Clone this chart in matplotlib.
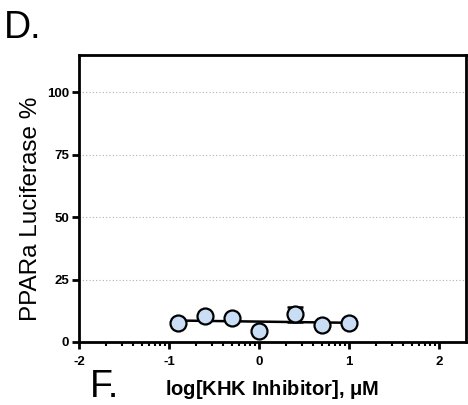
import matplotlib.pyplot as plt
import numpy as np
from matplotlib.ticker import FixedLocator

plt.rcParams['font.family'] = ['Liberation Sans', 'DejaVu Sans']
plt.rcParams['axes.unicode_minus'] = False

# data
log_conc = [-0.9, -0.6, -0.3, 0.0, 0.4, 0.7, 1.0]
response = [7.6, 10.6, 9.6, 4.5, 11.1, 7.0, 7.6]
resp_err = [0.0, 0.0, 0.0, 0.0, 3.1, 0.0, 0.0]
fit_x = [-0.9, 1.0]
fit_y = [8.6, 7.7]
yticks = [0, 25, 50, 75, 100]
xticks = [-2, -1, 0, 1, 2]

fig = plt.figure(figsize=(4.68, 4.05), dpi=100)
ax = fig.add_axes([79 / 468, 1 - 342 / 405, (466 - 79) / 468, (342 - 55) / 405])

ax.plot(fit_x, fit_y, color='black', lw=1.8, zorder=2)
ax.errorbar(log_conc, response, yerr=resp_err, fmt='none', ecolor='black',
            elinewidth=1.8, capsize=5.5, capthick=1.8, zorder=3)
ax.plot(log_conc, response, 'o', ms=11.5, mfc='#c9def5', mec='black', mew=1.6, zorder=4)

ax.set_xlim(-2, 2.3)
ax.set_ylim(0, 115)
ax.set_yticks(yticks)
ax.set_xticks(xticks)
minors = []
for d in range(-2, 3):
    for k in range(2, 10):
        v = d + np.log10(k)
        if v < 2.3:
            minors.append(v)
ax.xaxis.set_minor_locator(FixedLocator(minors))

for s in ax.spines.values():
    s.set_linewidth(2)
ax.tick_params(axis='both', which='major', length=5, width=2, labelsize=9.5, pad=2)
ax.tick_params(axis='x', which='major', pad=5)
ax.tick_params(axis='x', which='minor', length=3, width=1.5)
for lab in ax.get_xticklabels() + ax.get_yticklabels():
    lab.set_fontweight('bold')

ax.grid(True, axis='y', which='major', color='#b0b0b0', linestyle=(0, (1, 2)), lw=0.8)
ax.set_axisbelow(True)

ax.set_ylabel('PPARa Luciferase %', fontsize=17.5, labelpad=4)
ax.yaxis.label.set_y(0.465)
ax.set_xlabel(r'log[KHK Inhibitor], $\mathregular{\mu}$M', fontsize=14.5,
              fontweight='bold', labelpad=7)

fig.text(4 / 468, 1 - 38 / 405, 'D.', fontsize=27)
fig.text(90 / 468, 0, 'F.', fontsize=27, va='bottom')

fig.savefig('out.png', dpi=100)
